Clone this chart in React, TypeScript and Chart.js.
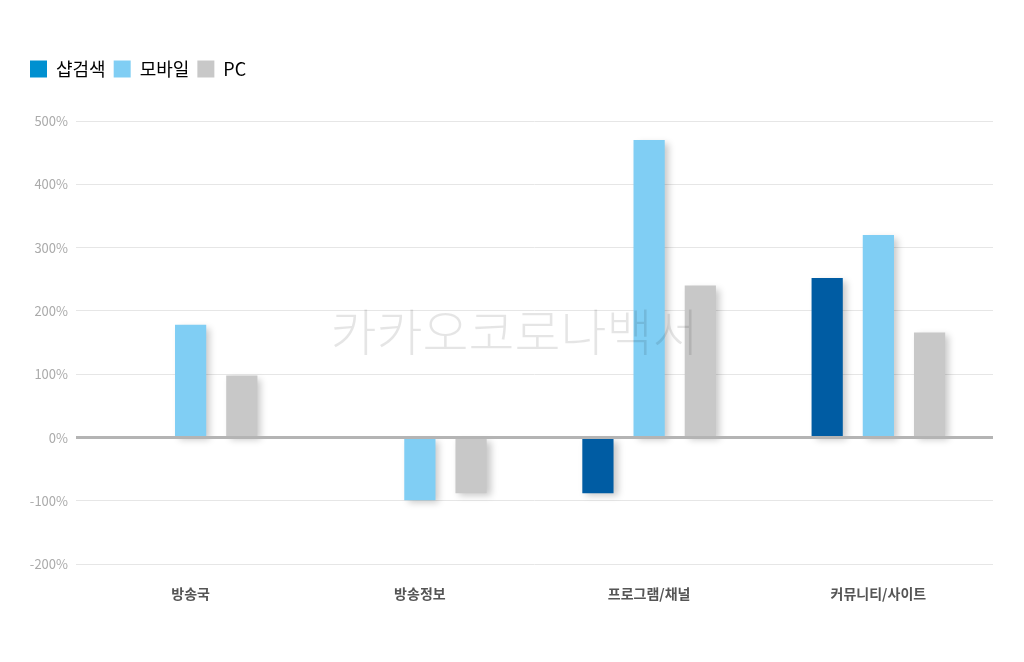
import { Chart, registerables } from "chart.js";
import { useEffect, useRef } from "react";

Chart.register(...registerables);

const categories = ["방송국", "방송정보", "프로그램/채널", "커뮤니티/사이트"];
const seriesNames = ["샵검색", "모바일", "PC"];
const sharpSearch = [null, null, -88, 252];
const mobile = [178, -99, 470, 320];
const pc = [98, -88, 240, 166];
const barColors = ["#005ca3", "#80cef4", "#c8c8c8"];
const legendColors = ["#0090d0", "#80cef4", "#c8c8c8"];
const yMin = -200;
const yMax = 500;

const FONT = "'Noto Sans CJK KR', 'Noto Sans', sans-serif";

const extras = {
  id: "extras",
  beforeInit(chart: any) {
    const legend = chart.legend;
    const fit = legend.fit;
    legend.fit = function () {
      fit.call(this);
      this.height += 33;
    };
    const draw = legend.draw;
    legend.draw = function () {
      const ctx = chart.ctx;
      ctx.save();
      ctx.translate(22, 0);
      draw.call(this);
      ctx.restore();
    };
  },
  beforeDatasetsDraw(chart: any) {
    const ctx = chart.ctx;
    ctx.save();
    ctx.shadowColor = "rgba(0,0,0,0.22)";
    ctx.shadowBlur = 7;
    ctx.shadowOffsetX = 4;
    ctx.shadowOffsetY = 3;
  },
  afterDatasetsDraw(chart: any) {
    const ctx = chart.ctx;
    ctx.restore();
    const { left, right } = chart.chartArea;
    const y0 = chart.scales.y.getPixelForValue(0);
    ctx.save();
    ctx.strokeStyle = "#b4b4b4";
    ctx.lineWidth = 3;
    ctx.beginPath();
    ctx.moveTo(left, y0);
    ctx.lineTo(right, y0);
    ctx.stroke();
    ctx.restore();
  },
  afterDraw(chart: any) {
    const ctx = chart.ctx;
    const { left, right } = chart.chartArea;
    const y = chart.scales.y.getPixelForValue(166);
    ctx.save();
    ctx.font = `300 50px ${FONT}`;
    ctx.fillStyle = "rgba(0,0,0,0.1)";
    ctx.textAlign = "center";
    ctx.textBaseline = "middle";
    ctx.fillText("카카오코로나백서", (left + right) / 2 - 20, y);
    ctx.restore();
  },
};

export default function App() {
  const canvasRef = useRef<HTMLCanvasElement>(null);

  useEffect(() => {
    document.body.style.margin = "0";
    if (!canvasRef.current) return;

    const chart = new Chart(canvasRef.current, {
      type: "bar",
      data: {
        labels: categories,
        datasets: [sharpSearch, mobile, pc].map((data, i) => ({
          label: seriesNames[i],
          data,
          backgroundColor: barColors[i],
          borderWidth: 0,
          categoryPercentage: 0.67,
          barPercentage: 0.61,
        })),
      },
      options: {
        responsive: true,
        maintainAspectRatio: false,
        animation: false,
        layout: { padding: { top: 52, right: 31, left: 0, bottom: 47 } },
        plugins: {
          tooltip: { enabled: false },
          legend: {
            position: "top",
            align: "start",
            labels: {
              boxWidth: 17,
              boxHeight: 17,
              padding: 8,
              color: "#333",
              font: { family: FONT, size: 18 },
              generateLabels: () =>
                seriesNames.map((name, i) => ({
                  text: name,
                  fillStyle: legendColors[i],
                  strokeStyle: legendColors[i],
                  lineWidth: 0,
                  datasetIndex: i,
                  hidden: false,
                })),
            },
          },
        },
        scales: {
          x: {
            grid: { display: false },
            border: { display: false },
            ticks: {
              color: "#555",
              padding: 13,
              font: { family: FONT, size: 14, weight: "bold" },
            },
          },
          y: {
            min: yMin,
            max: yMax,
            afterFit: (s: any) => {
              s.width = 76;
            },
            grid: { color: "#e6e6e6", drawTicks: false },
            border: { display: false },
            ticks: {
              stepSize: 100,
              padding: 8,
              color: "#aaa",
              font: { family: FONT, size: 13 },
              callback: (v: any) => `${v}%`,
            },
          },
        },
      },
      plugins: [extras],
    });

    return () => {
      chart.destroy();
    };
  }, []);

  return (
    <div style={{ width: 1024, height: 662, position: "relative" }}>
      <canvas ref={canvasRef}></canvas>
    </div>
  );
}
